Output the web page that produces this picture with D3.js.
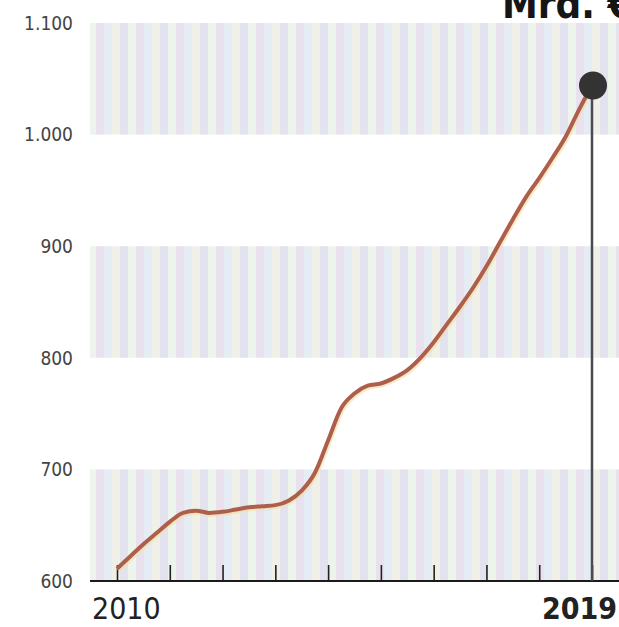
<!DOCTYPE html>
<html lang="de">
<head>
  <meta charset="UTF-8">
  <title>Mrd. €</title>
  <style>
    body { margin: 0; background: #fff; }
    svg { display: block; }
    .ylab { font-family: "DejaVu Sans Condensed", "DejaVu Sans", sans-serif; font-size: 19px; fill: #444; }
    .xlab { font-family: "DejaVu Sans Condensed", "DejaVu Sans", sans-serif; font-size: 30px; fill: #222; }
  </style>
</head>
<body>
  <div id="chart"></div>
  <script src="https://cdn.jsdelivr.net/npm/d3@7"></script>
  <script>
    // quarterly values, Mrd. €
    var quarters = [
      2010.00, 2010.25, 2010.50, 2010.75,
      2011.00, 2011.25, 2011.50, 2011.75,
      2012.00, 2012.25, 2012.50, 2012.75,
      2013.00, 2013.25, 2013.50, 2013.75,
      2014.00, 2014.25, 2014.50, 2014.75,
      2015.00, 2015.25, 2015.50, 2015.75,
      2016.00, 2016.25, 2016.50, 2016.75,
      2017.00, 2017.25, 2017.50, 2017.75,
      2018.00, 2018.25, 2018.50, 2018.75,
      2019.00
    ];
    var values = [
      611, 622, 633, 643,
      653, 661, 663, 661,
      662, 664, 666, 667,
      668, 672, 681, 697,
      726, 755, 768, 775,
      777, 782, 789, 800,
      814, 830, 846, 863,
      882, 903, 924, 944,
      961, 979, 998, 1022,
      1044
    ];
    var years = [2010, 2011, 2012, 2013, 2014, 2015, 2016, 2017, 2018, 2019];
    var yTicks = [600, 700, 800, 900, 1000, 1100];
    var yTickLabels = ['600', '700', '800', '900', '1.000', '1.100'];
    var bands = [[600, 700], [800, 900], [1000, 1100]];
    var unit = 'Mrd. €';

    var W = 619, H = 627;
    var svg = d3.select('#chart').append('svg').attr('width', W).attr('height', H);

    var x = d3.scaleLinear().domain([2010, 2019]).range([117, 592]);
    var y = d3.scaleLinear().domain([600, 1100]).range([581, 23]);

    // stripe pattern (the scanned raster look)
    var defs = svg.append('defs');
    var pat = defs.append('pattern')
      .attr('id', 'stripes')
      .attr('patternUnits', 'userSpaceOnUse')
      .attr('width', 40).attr('height', 10);
    var stripeCols = ['#e3e3f0', '#edf4ec', '#e9e2ee', '#e5ecf3', '#f1f0e8'];
    stripeCols.forEach(function(c, i) {
      pat.append('rect').attr('x', i * 8).attr('y', 0).attr('width', 8).attr('height', 10).attr('fill', c);
    });

    svg.selectAll('rect.band')
      .data(bands)
      .enter().append('rect')
      .attr('class', 'band')
      .attr('x', 90)
      .attr('width', W - 90)
      .attr('y', function(d) { return y(d[1]); })
      .attr('height', function(d) { return y(d[0]) - y(d[1]); })
      .attr('fill', 'url(#stripes)');

    // y labels
    svg.selectAll('text.ylab')
      .data(yTicks)
      .enter().append('text')
      .attr('class', 'ylab')
      .attr('x', 73)
      .attr('y', function(d) { return y(d); })
      .attr('dy', '0.36em')
      .attr('text-anchor', 'end')
      .text(function(d, i) { return yTickLabels[i]; });

    // x axis, ticks pointing up
    var xAxis = d3.axisBottom(x).tickValues(years).tickSize(-16).tickFormat('');
    var gx = svg.append('g').attr('transform', 'translate(0,' + y(600) + ')').call(xAxis);
    gx.select('.domain').remove();
    gx.selectAll('.tick line').attr('stroke', '#222').attr('stroke-width', 1.6);
    gx.append('line')
      .attr('x1', 90).attr('x2', W)
      .attr('stroke', '#1a1a1a').attr('stroke-width', 2.2);

    svg.append('text').attr('class', 'xlab')
      .attr('x', 92).attr('y', 619)
      .text(years[0]);
    svg.append('text').attr('class', 'xlab')
      .attr('x', 617).attr('y', 619)
      .attr('text-anchor', 'end')
      .attr('font-weight', 'bold')
      .text(years[years.length - 1]);

    // data line
    var pts = quarters.map(function(q, i) { return [q, values[i]]; });
    var line = d3.line()
      .x(function(d) { return x(d[0]); })
      .y(function(d) { return y(d[1]); })
      .curve(d3.curveMonotoneX);

    svg.append('path')
      .datum(pts)
      .attr('fill', 'none')
      .attr('stroke', '#f3dca0')
      .attr('stroke-width', 5)
      .attr('opacity', 0.6)
      .attr('transform', 'translate(1,1.5)')
      .attr('d', line);
    svg.append('path')
      .datum(pts)
      .attr('fill', 'none')
      .attr('stroke', '#ad5f4c')
      .attr('stroke-width', 4)
      .attr('stroke-linejoin', 'round')
      .attr('d', line);

    // last value marker
    var last = pts[pts.length - 1];
    svg.append('line')
      .attr('x1', x(last[0])).attr('x2', x(last[0]))
      .attr('y1', y(last[1])).attr('y2', y(600))
      .attr('stroke', '#4a4a50').attr('stroke-width', 2.5);
    svg.append('circle')
      .attr('cx', x(last[0]) + 1).attr('cy', y(last[1]))
      .attr('r', 14)
      .attr('fill', '#333');

    // unit title, cut by the top edge as in the source
    svg.append('text')
      .attr('x', 502).attr('y', 18)
      .attr('font-family', '"DejaVu Sans Condensed", "DejaVu Sans", sans-serif')
      .attr('font-weight', 'bold')
      .attr('font-size', 40)
      .attr('fill', '#151515')
      .text(unit);
  </script>
</body>
</html>
